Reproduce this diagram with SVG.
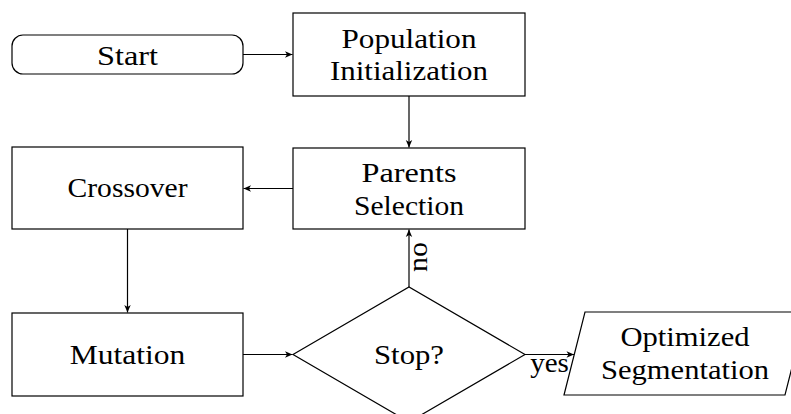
<svg xmlns="http://www.w3.org/2000/svg" width="791" height="414" viewBox="0 0 791 414">
<style>
.n{fill:#fff;stroke:#000;stroke-width:1.2}
.t{fill:#000;text-anchor:middle}
.c{stroke:#000;stroke-width:1.2;fill:none;marker-end:url(#ah)}
</style>
<defs>
<marker id="ah" viewBox="-8 -4 9 8" refX="0" refY="0" markerWidth="9" markerHeight="8" markerUnits="userSpaceOnUse" orient="auto">
<path d="M0,0 L-7.5,-3.2 L-5.5,0 L-7.5,3.2 Z" fill="#000"/>
</marker>
</defs>
<rect width="791" height="414" fill="#fff"/>
<g id="connectors">
<line class="c" x1="243" y1="54.5" x2="292.5" y2="54.5"/>
<line class="c" x1="409" y1="96" x2="409" y2="147.5"/>
<line class="c" x1="293" y1="188.5" x2="243.5" y2="188.5"/>
<line class="c" x1="127.5" y1="229" x2="127.5" y2="312.5"/>
<line class="c" x1="243" y1="354.5" x2="292.5" y2="354.5"/>
<line class="c" x1="409" y1="287" x2="409" y2="229.5"/>
<line class="c" x1="525" y1="354.5" x2="574" y2="354.5"/>
</g>
<g font-family="Liberation Serif, Times New Roman, serif" font-size="28">
<g id="labels">
<text class="t" x="549.5" y="372" textLength="38.7" lengthAdjust="spacingAndGlyphs">yes</text>
<text class="t" transform="translate(427,257) rotate(-90)" x="0" y="0" textLength="30" lengthAdjust="spacingAndGlyphs">no</text>
</g>
<g id="start">
<rect class="n" x="12" y="35" width="231" height="39" rx="11" ry="11"/>
<text class="t" x="127.5" y="64.5" textLength="61" lengthAdjust="spacingAndGlyphs">Start</text>
</g>
<g id="population">
<rect class="n" x="293" y="13" width="232" height="83"/>
<text class="t" x="409" y="48" textLength="135" lengthAdjust="spacingAndGlyphs">Population</text>
<text class="t" x="409" y="80" textLength="158" lengthAdjust="spacingAndGlyphs">Initialization</text>
</g>
<g id="parents">
<rect class="n" x="293" y="148" width="232" height="81"/>
<text class="t" x="409" y="182" textLength="95" lengthAdjust="spacingAndGlyphs">Parents</text>
<text class="t" x="409" y="214.5" textLength="110" lengthAdjust="spacingAndGlyphs">Selection</text>
</g>
<g id="crossover">
<rect class="n" x="12" y="147" width="231" height="82"/>
<text class="t" x="127.5" y="197" textLength="120" lengthAdjust="spacingAndGlyphs">Crossover</text>
</g>
<g id="mutation">
<rect class="n" x="12" y="313" width="231" height="83"/>
<text class="t" x="127.5" y="364" textLength="115.6" lengthAdjust="spacingAndGlyphs">Mutation</text>
</g>
<g id="stop">
<polygon class="n" points="293,354.5 409,287 525,354.5 409,422"/>
<text class="t" x="409" y="364" textLength="70" lengthAdjust="spacingAndGlyphs">Stop?</text>
</g>
<g id="optimized">
<polygon class="n" points="585,312 806,312 785,395 564,395"/>
<text class="t" x="685" y="346" textLength="129" lengthAdjust="spacingAndGlyphs">Optimized</text>
<text class="t" x="685" y="378.5" textLength="168" lengthAdjust="spacingAndGlyphs">Segmentation</text>
</g>
</g>
</svg>
